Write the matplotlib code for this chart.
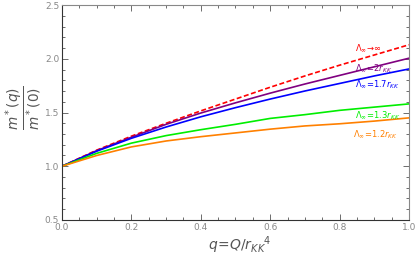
import numpy as np
import matplotlib
matplotlib.use("Agg")
import matplotlib.pyplot as plt
from matplotlib.ticker import MultipleLocator

# values
q = [0.0, 0.1, 0.2, 0.3, 0.4, 0.5, 0.6, 0.7, 0.8, 0.9, 1.0]
m_inf = [1.0, 1.15, 1.28, 1.40, 1.515, 1.625, 1.735, 1.84, 1.94, 2.035, 2.13]
m_2 = [1.0, 1.145, 1.27, 1.39, 1.495, 1.59, 1.68, 1.765, 1.845, 1.925, 2.005]
m_17 = [1.0, 1.14, 1.26, 1.365, 1.46, 1.545, 1.625, 1.70, 1.77, 1.84, 1.905]
m_13 = [1.0, 1.12, 1.215, 1.285, 1.34, 1.39, 1.445, 1.48, 1.52, 1.55, 1.58]
m_12 = [1.0, 1.10, 1.18, 1.235, 1.275, 1.31, 1.345, 1.375, 1.395, 1.42, 1.45]

labels = [r'$\Lambda_\infty\!\rightarrow\!\infty$',
          r'$\Lambda_\infty\!=\!2r_{KK}$',
          r'$\Lambda_\infty\!=\!1.7r_{KK}$',
          r'$\Lambda_\infty\!=\!1.3r_{KK}$',
          r'$\Lambda_\infty\!=\!1.2r_{KK}$']
label_pos = [(0.845, 2.10), (0.845, 1.91), (0.845, 1.755), (0.845, 1.467), (0.84, 1.29)]

colors = ['#ff0000', '#800080', '#0000ff', '#00ee00', '#ff8000']
series = [m_inf, m_2, m_17, m_13, m_12]

fig = plt.figure(figsize=(4.17, 2.57), dpi=100)
ax = fig.add_axes([0.1487, 0.144, 0.832, 0.8365])

for i, (y, c) in enumerate(zip(series, colors)):
    if i == 0:
        ax.plot(q, y, color=c, lw=1.2, ls='--', dashes=(3, 1.5))
    else:
        ax.plot(q, y, color=c, lw=1.2)
    ax.text(label_pos[i][0], label_pos[i][1], labels[i], color=c, fontsize=6,
            ha='left', va='center')

ax.set_xlim(0, 1)
ax.set_ylim(0.5, 2.5)
ax.xaxis.set_major_locator(MultipleLocator(0.2))
ax.xaxis.set_minor_locator(MultipleLocator(0.05))
ax.yaxis.set_major_locator(MultipleLocator(0.5))
ax.yaxis.set_minor_locator(MultipleLocator(0.1))
ax.tick_params(which='both', direction='in', top=True, right=True,
               colors='#555555', labelcolor='#888888', labelsize=6.5, width=0.6,
               pad=2)
ax.tick_params(which='major', length=4)
ax.tick_params(which='minor', length=2)
for s in ax.spines.values():
    s.set_color('#888888')
    s.set_linewidth(0.8)
ax.spines['left'].set_color('#333333')
ax.spines['bottom'].set_color('#333333')

fig.text(0.575, 1 - 250 / 257, r'$q\!=\!Q/r_{KK}{}^{4}$', fontsize=10,
         color='#555555', ha='center', va='baseline')
fig.text(24 / 417, 1 - 108 / 257, r'$\frac{m^*(q)}{m^*(0)}$', fontsize=14,
         color='#555555', ha='center', va='center', rotation=90)

fig.savefig('out.png', dpi=100)
